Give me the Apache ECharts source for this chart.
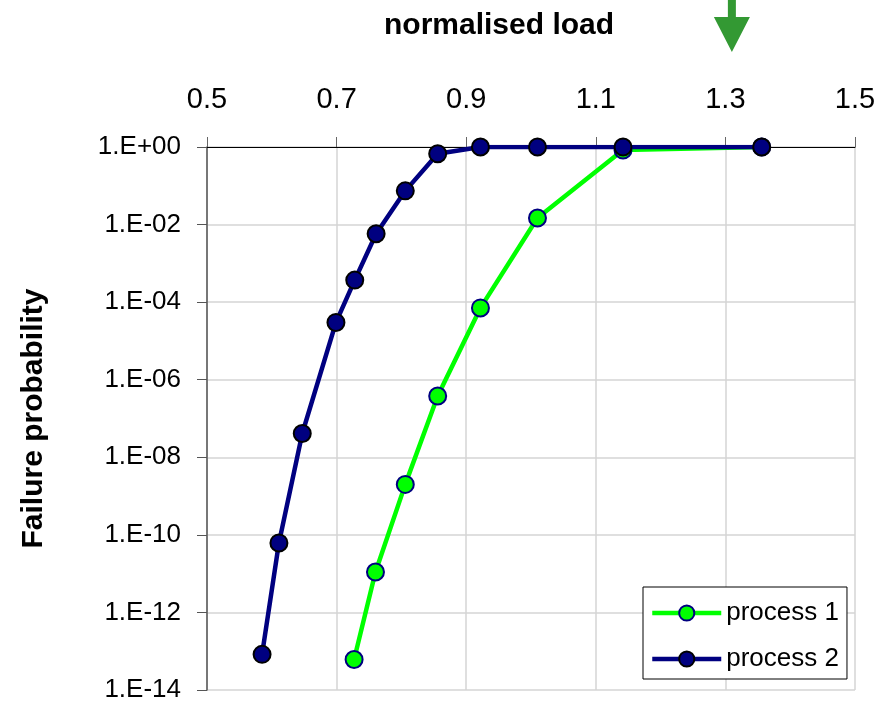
<!DOCTYPE html>
<html>
<head>
<meta charset="utf-8">
<script src="https://cdn.jsdelivr.net/npm/echarts@6/dist/echarts.min.js"></script>
<style>
  html, body { margin: 0; padding: 0; background: #fff; }
  #chart { width: 881px; height: 703px; }
</style>
</head>
<body>
<div id="chart"></div>
<script>
(function () {
    'use strict';

    //////////DATA
    var loadValues = [0.585, 0.611, 0.647, 0.699, 0.728, 0.761, 0.806, 0.856, 0.922, 1.010, 1.142, 1.356];
    var process1Load = [0.727, 0.760, 0.806, 0.856, 0.922, 1.010, 1.142, 1.356];
    var process1Prob = [6.1e-14, 1.1e-11, 2.0e-9, 3.8e-7, 7.1e-5, 0.0148, 0.84, 1];
    var process2Prob = [8.3e-14, 6.2e-11, 4.1e-8, 3.0e-5, 3.7e-4, 5.8e-3, 0.074, 0.67, 1, 1, 1, 1];
    var seriesNames = ['process 1', 'process 2'];
    var xTicks = { min: 0.5, max: 1.5, step: 0.2 };
    var yTicks = { min: 1e-14, max: 1, stepDecades: 2 };
    var arrowLoad = 1.31;
    //////////

    var FONT = 'Liberation Sans, Arial, sans-serif';
    var chart = echarts.init(document.getElementById('chart'));

    function zip(xs, ys) {
        var out = [];
        for (var i = 0; i < xs.length; i++) {
            out.push([xs[i], ys[i]]);
        }
        return out;
    }

    //Etiquetas tipo Excel: 1.E-02
    function expLabel(v) {
        var e = Math.round(Math.log10(v));
        var a = Math.abs(e);
        return '1.E' + (e >= 0 ? '+' : '-') + (a < 10 ? '0' + a : a);
    }

    var option = {
        backgroundColor: '#fff',
        animation: false,
        title: {
            text: 'normalised load',
            left: 379,
            top: 6,
            textStyle: { fontFamily: FONT, fontSize: 30, fontWeight: 'bold', color: '#000' }
        },
        grid: { left: 207, right: 26, top: 147, bottom: 12, containLabel: false },
        legend: {
            orient: 'vertical',
            left: 643,
            top: 587,
            padding: [13, 8, 7, 7],
            itemGap: 20,
            itemWidth: 69,
            itemHeight: 19,
            backgroundColor: '#fff',
            borderColor: '#000',
            borderWidth: 1,
            borderRadius: 0,
            lineStyle: { width: 4.5 },
            data: seriesNames,
            textStyle: { fontFamily: FONT, fontSize: 26, color: '#000' }
        },
        xAxis: {
            type: 'value',
            position: 'top',
            min: xTicks.min,
            max: xTicks.max,
            interval: xTicks.step,
            axisLine: { show: true, lineStyle: { color: '#000', width: 1 } },
            axisTick: { show: true, inside: false, length: 10, lineStyle: { color: '#666' } },
            axisLabel: {
                margin: 33,
                fontFamily: FONT,
                fontSize: 29,
                color: '#000',
                formatter: function (v) { return v.toFixed(1); }
            },
            splitLine: { show: true, lineStyle: { color: '#d4d4d4', width: 1.5 } }
        },
        yAxis: {
            type: 'log',
            logBase: 10,
            min: yTicks.min,
            max: yTicks.max,
            interval: yTicks.stepDecades,
            name: 'Failure probability',
            nameLocation: 'middle',
            nameGap: 158,
            nameRotate: 90,
            nameTextStyle: { fontFamily: FONT, fontSize: 30, fontWeight: 'bold', color: '#000' },
            axisLine: { show: true, lineStyle: { color: '#555', width: 1.5 } },
            axisTick: { show: true, inside: false, length: 10, lineStyle: { color: '#555' } },
            axisLabel: {
                margin: 26,
                fontFamily: FONT,
                fontSize: 26,
                color: '#000',
                formatter: expLabel
            },
            splitLine: { show: true, lineStyle: { color: '#d4d4d4', width: 1.5 } },
            minorTick: { show: false },
            minorSplitLine: { show: false }
        },
        series: [
            {
                name: seriesNames[0],
                type: 'line',
                data: zip(process1Load, process1Prob),
                symbol: 'circle',
                symbolSize: 17,
                lineStyle: { color: '#00ff00', width: 4.5 },
                itemStyle: { color: '#00ff00', borderColor: '#000080', borderWidth: 2 },
                z: 2
            },
            {
                name: seriesNames[1],
                type: 'line',
                data: zip(loadValues, process2Prob),
                symbol: 'circle',
                symbolSize: 17,
                lineStyle: { color: '#000080', width: 4.5 },
                itemStyle: { color: '#000080', borderColor: '#000', borderWidth: 2 },
                z: 3
            }
        ]
    };

    chart.setOption(option);

    ////////////Flecha verde sobre el eje (posicion desde la escala del eje X)
    var ax = chart.convertToPixel({ xAxisIndex: 0 }, arrowLoad);
    chart.setOption({
        graphic: [
            {
                type: 'polygon',
                shape: {
                    points: [
                        [ax - 4, 0], [ax + 4, 0], [ax + 4, 17],
                        [ax + 18, 17], [ax, 52], [ax - 18, 17], [ax - 4, 17]
                    ]
                },
                style: { fill: '#339933' },
                silent: true
            }
        ]
    });
})();
</script>
</body>
</html>
